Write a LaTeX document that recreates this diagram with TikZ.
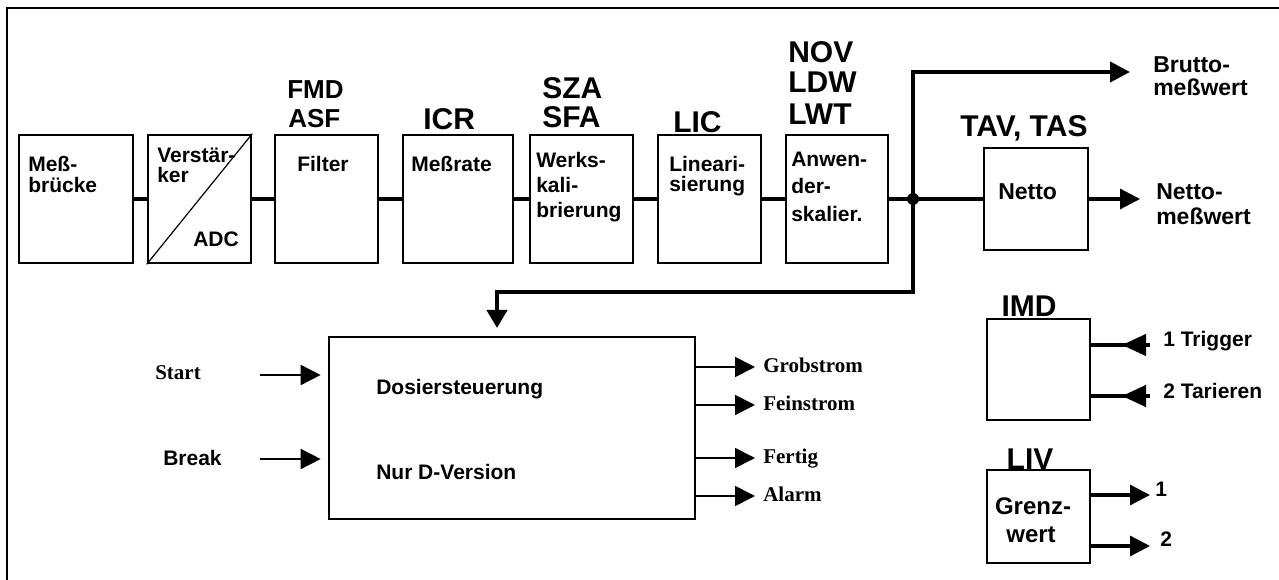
\documentclass[tikz,border=0pt]{standalone}
\usepackage{fontspec}
\setmainfont{Liberation Sans}
\newfontfamily\tms{Liberation Serif}
\usetikzlibrary{arrows.meta}
\begin{document}
\begin{tikzpicture}[x=0.75pt,y=-0.75pt,
  blk/.style={draw, line width=2pt, inner sep=0pt},
  conn/.style={line width=2.4pt},
  thk/.style={line width=3.2pt},
  thn/.style={line width=1.3pt},
  tri/.style={-{Triangle[length=15pt,width=15pt]}},
  t/.style={anchor=base west, inner sep=0pt, font=\bfseries\fontsize{15.75}{18}\selectfont},
  tser/.style={anchor=base west, inner sep=0pt, font=\tms\bfseries\fontsize{15.75}{18}\selectfont},
  tm/.style={anchor=base west, inner sep=0pt, font=\bfseries\fontsize{17.25}{20}\selectfont},
  tb/.style={anchor=base west, inner sep=0pt, font=\bfseries\fontsize{22.5}{26}\selectfont},
  tbs/.style={anchor=base west, inner sep=0pt, font=\bfseries\fontsize{19.5}{22}\selectfont}]
\useasboundingbox (0,0) rectangle (1279,580);
\draw[line width=2pt] (7,580) -- (7,8) -- (1279,8);

% chain blocks
\node[blk, minimum width=85.5pt, minimum height=96pt] (mb) at (76,199) {};
\node[blk, minimum width=77.25pt, minimum height=96pt] (vs) at (199.5,199) {};
\node[blk, minimum width=77.25pt, minimum height=96pt] (fi) at (326.5,199) {};
\node[blk, minimum width=82.5pt, minimum height=96pt] (mr) at (458,199) {};
\node[blk, minimum width=77.25pt, minimum height=96pt] (wk) at (581.5,199) {};
\node[blk, minimum width=77.25pt, minimum height=96pt] (li) at (709.5,199) {};
\node[blk, minimum width=76.5pt, minimum height=96pt] (an) at (837,199) {};
\node[blk, minimum width=78pt, minimum height=76.5pt] (ne) at (1036,199) {};
\draw[line width=0.9pt] (vs.south west) -- (vs.north east);

\draw[conn] (mb) -- (vs);
\draw[conn] (vs) -- (fi);
\draw[conn] (fi) -- (mr);
\draw[conn] (mr) -- (wk);
\draw[conn] (wk) -- (li);
\draw[conn] (li) -- (an);
\draw[conn] (an.east) -- (ne.west);
\coordinate (J) at (913,199);
\fill (J) circle[radius=6];

\coordinate (bt) at (1130,72);
\draw[tri, line width=3pt] (J) |- (bt);
\coordinate (nt) at (1140,199);
\draw[conn, tri] (ne.east) -- (nt);

% lower blocks
\node[blk, minimum width=274.5pt, minimum height=136.5pt] (ds) at (512,428) {};
\node[blk, minimum width=77.25pt, minimum height=75.75pt] (imd) at (1038.5,369.5) {};
\node[blk, minimum width=77.25pt, minimum height=69.75pt] (liv) at (1038.5,516.5) {};

\coordinate (fb) at (497,328);
\draw[thk, -{Triangle[length=13.5pt,width=15pt]}] (J) -- ++(0,93) -| (fb);

% inputs to dosier
\coordinate (sa) at (260,375);
\coordinate (ba) at (260,459);
\draw[thn, tri, shorten >=5.25pt] (sa) -- (sa -| ds.west);
\draw[thn, tri, shorten >=5.25pt] (ba) -- (ba -| ds.west);

% outputs of dosier
\coordinate (o1) at (755,367);
\coordinate (o2) at (755,405);
\coordinate (o3) at (755,458);
\coordinate (o4) at (755,496);
\foreach \o in {o1,o2,o3,o4} \draw[thn, tri] (ds.east |- \o) -- (\o);

% IMD inputs
\coordinate (i1) at (1150,345);
\coordinate (i2) at (1150,396);
\foreach \i in {i1,i2} {
  \draw[conn] (imd.east |- \i) -- (\i);
  \draw[conn, -{Triangle[length=18pt,width=16pt]}] (\i) -- ++(-28,0);
}
% LIV outputs
\coordinate (l1) at (1150,495);
\coordinate (l2) at (1150,546);
\draw[conn, tri] (liv.east |- l1) -- (l1);
\draw[conn, tri] (liv.east |- l2) -- (l2);

% block texts
\node[t] (mb1) at (28,172) {Meß-};
\node[t] (mb2) at (28,193) {brücke};
\node[t] (vs1) at (157,163) {Verstär-};
\node[t] (vs2) at (157,183) {ker};
\node[t] (vs3) at (193,247) {ADC};
\node[t] (fi1) at (297,172) {Filter};
\node[t] (mr1) at (411,172) {Meßrate};
\node[t] (wk1) at (536,168) {Werks-};
\node[t] (wk2) at (536,193) {kali-};
\node[t] (wk3) at (536,218) {brierung};
\node[t] (li1) at (669,172) {Lineari-};
\node[t] (li2) at (669,192) {sierung};
\node[t] (an1) at (791,167) {Anwen-};
\node[t] (an2) at (791,194) {der-};
\node[t] (an3) at (791,222) {skalier.};

% parameter labels
\node[tbs] (p1) at (287,99) {FMD};
\node[tbs] (p2) at (288,128) {ASF};
\node[tb] (p3) at (423,130) {ICR};
\node[tb] (p4) at (542,99) {SZA};
\node[tb] (p5) at (542,128) {SFA};
\node[tb] (p6) at (673,133) {LIC};
\node[tb] (p7) at (788,63) {NOV};
\node[tb] (p8) at (788,93) {LDW};
\node[tb] (p9) at (788,125) {LWT};
\node[tb] (p10) at (960,137) {TAV, TAS};

\node[tm] (br1) at (1153,73) {Brutto-};
\node[tm] (br2) at (1153,96) {meßwert};
\node[tm] (nm1) at (1156,200) {Netto-};
\node[tm] (nm2) at (1156,225) {meßwert};
\node[tm] (ne1) at (998,200) {Netto};

% dosier texts
\node[tser] (st) at (155,380) {Start};
\node[t] (bk) at (163,466) {Break};
\node[t] (ds1) at (376,395) {Dosiersteuerung};
\node[t] (ds2) at (376,480) {Nur D-Version};
\node[tser] (g1) at (763,373) {Grobstrom};
\node[tser] (g2) at (763,411) {Feinstrom};
\node[tser] (g3) at (763,464) {Fertig};
\node[tser] (g4) at (763,502) {Alarm};

% IMD / LIV
\node[tb, anchor=base] (imdl) at (1029,317) {IMD};
\node[tb, anchor=base] (livl) at (1030,470) {LIV};
\node[t] (tr1) at (1163,347) {1 Trigger};
\node[t] (tr2) at (1163,399) {2 Tarieren};
\node[tm, anchor=base, font=\bfseries\fontsize{18}{20}\selectfont] (gw1) at (1033,515) {Grenz-};
\node[tm, anchor=base, font=\bfseries\fontsize{18}{20}\selectfont] (gw2) at (1031,543) {wert};
\node[t] (n1) at (1155,497) {1};
\node[t] (n2) at (1160,547) {2};
\end{tikzpicture}
\end{document}
